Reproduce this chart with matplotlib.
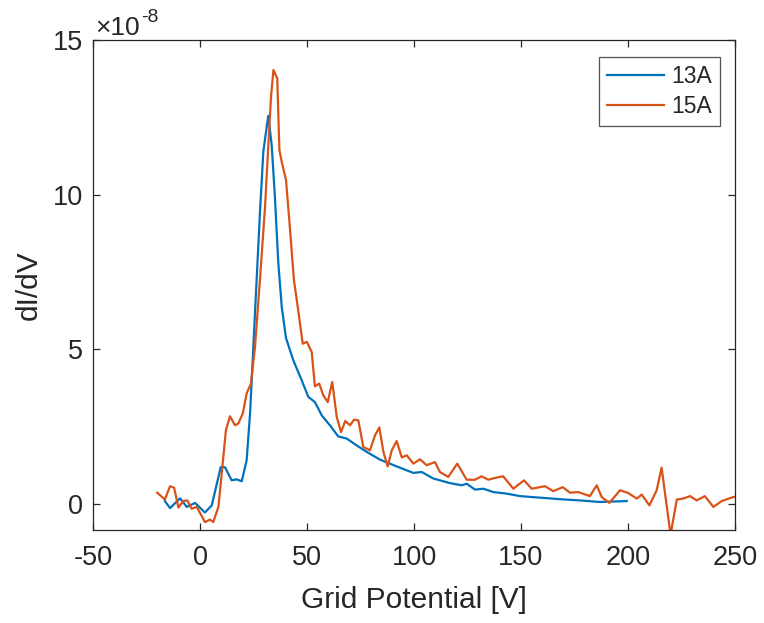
import matplotlib
matplotlib.use("Agg")
import matplotlib.pyplot as plt

# Values in units of 1e-8
x13 = [-16.4, -14.0, -9.3, -6.2, -2.3, 2.3, 5.5, 9.7, 11.7, 14.8, 17.1, 19.5, 21.8, 23.4,
       25.7, 28.0, 29.6, 31.9, 33.5, 35.0, 36.6, 38.2, 40.2, 43.6, 47.5, 50.6, 53.7, 56.9,
       60.7, 64.6, 68.6, 73.2, 77.9, 84.1, 91.9, 99.7, 103.6, 109.0, 116.8, 122.3, 124.6,
       128.5, 132.4, 137.1, 143.3, 149.5, 158.9, 168.2, 177.6, 186.9, 199.4]
y13 = [0.09, -0.14, 0.18, -0.10, 0.03, -0.28, -0.05, 1.19, 1.18, 0.76, 0.79, 0.73, 1.41, 2.93,
       6.17, 9.40, 11.4, 12.55, 11.6, 9.93, 7.78, 6.37, 5.36, 4.64, 4.00, 3.46, 3.29, 2.86,
       2.54, 2.18, 2.11, 1.89, 1.68, 1.43, 1.21, 1.00, 1.03, 0.82, 0.67, 0.60, 0.65,
       0.46, 0.49, 0.38, 0.33, 0.25, 0.20, 0.15, 0.11, 0.06, 0.09]

x15 = [-20.0, -16.4, -14.0, -12.1, -10.1, -7.8, -5.9, -3.9, -1.5, 2.3, 4.7, 6.2, 8.6, 10.6,
       12.1, 14.0, 16.4, 17.9, 20.0, 21.8, 23.8, 25.7, 28.0, 30.4, 31.9, 33.2, 34.3, 36.1,
       37.1, 38.2, 40.2, 42.1, 43.9, 45.9, 48.0, 49.9, 52.2, 53.7, 55.7, 57.6, 59.7, 61.8,
       63.9, 65.9, 67.9, 70.1, 72.0, 74.0, 76.3, 79.4, 81.8, 83.8, 85.7, 87.7, 89.6, 91.9,
       94.3, 96.6, 99.7, 102.8, 105.9, 109.8, 112.1, 116.0, 120.2, 124.6, 128.5, 131.6,
       134.7, 138.6, 141.7, 146.4, 151.4, 155.0, 161.2, 165.1, 169.5, 172.9, 176.8, 182.2,
       185.4, 187.7, 191.3, 196.3, 200.1, 204.1, 206.4, 210.0, 213.4, 215.7, 219.9, 222.8,
       225.8, 229.0, 232.1, 235.9, 239.9, 243.8, 249.2, 252.0]
y15 = [0.36, 0.14, 0.57, 0.52, -0.12, 0.09, 0.11, -0.16, -0.10, -0.59, -0.51, -0.59, -0.10, 1.30,
       2.38, 2.83, 2.54, 2.60, 2.92, 3.57, 3.89, 5.07, 7.23, 9.61, 11.55, 13.17, 14.03, 13.76,
       11.44, 11.06, 10.47, 8.85, 7.23, 6.26, 5.18, 5.24, 4.91, 3.80, 3.89, 3.51, 3.29, 3.94,
       2.81, 2.32, 2.68, 2.54, 2.72, 2.70, 1.84, 1.73, 2.22, 2.47, 1.68, 1.21, 1.73, 2.03,
       1.50, 1.57, 1.30, 1.44, 1.25, 1.35, 1.03, 0.87, 1.30, 0.78, 0.78, 0.89,
       0.78, 0.85, 0.89, 0.49, 0.76, 0.49, 0.57, 0.41, 0.54, 0.36, 0.38, 0.25,
       0.60, 0.22, 0.03, 0.44, 0.35, 0.17, 0.30, -0.05, 0.44, 1.17, -1.0, 0.14,
       0.17, 0.25, 0.11, 0.25, -0.10, 0.09, 0.22, 0.24]

labels = ["13A", "15A"]
colors = ["#0072BD", "#D95319"]
xticks = [-50, 0, 50, 100, 150, 200, 250]
yticks = [0, 5, 10, 15]

plt.rcParams['font.family'] = ['Liberation Sans', 'DejaVu Sans']
TXT = '#262626'

fig = plt.figure(figsize=(7.64, 6.23), dpi=100)
ax = fig.add_axes([93/764, 1-529.5/623, (735-93)/764, (529.5-40)/623])

ax.plot(x13, y13, color=colors[0], lw=1.6, label=labels[0])
ax.plot(x15, y15, color=colors[1], lw=1.6, label=labels[1])

ax.set_xlim(-50, 250)
ax.set_ylim(-0.83, 15)
ax.set_xticks(xticks)
ax.set_yticks(yticks)
ax.set_xticklabels([str(t) for t in xticks])
ax.set_yticklabels([str(t) for t in yticks])

ax.tick_params(direction='in', length=5, width=0.9, top=True, right=True,
               labelsize=19.5, colors=TXT)
ax.tick_params(axis='x', pad=11)
ax.tick_params(axis='y', pad=7)
for s in ax.spines.values():
    s.set_color(TXT)
    s.set_linewidth(0.9)

ax.set_xlabel("Grid Potential [V]", fontsize=21.5, color=TXT)
ax.set_ylabel("dI/dV", fontsize=21.5, color=TXT)
ax.xaxis.set_label_coords(414/764, 1-600/623, transform=fig.transFigure)
ax.yaxis.set_label_coords(29/764, 1-285/623, transform=fig.transFigure)
ax.xaxis.label.set_va('center')
ax.yaxis.label.set_va('center')

fig.text(95/764, 1-35/623, "\u00d710", fontsize=19, color=TXT, ha='left', va='baseline')
fig.text(141/764, 1-22/623, "-8", fontsize=14, color=TXT, ha='left', va='baseline')

leg = ax.legend(loc='upper right', bbox_to_anchor=(1-15/642, 1-17/489.5), fontsize=16.5,
                frameon=True, fancybox=False, edgecolor=TXT, handlelength=2.5,
                borderpad=0.35, labelspacing=0.3, handletextpad=0.3, borderaxespad=0)
leg.get_frame().set_linewidth(0.9)
for t in leg.get_texts():
    t.set_color(TXT)

fig.savefig("out.png", dpi=100)
